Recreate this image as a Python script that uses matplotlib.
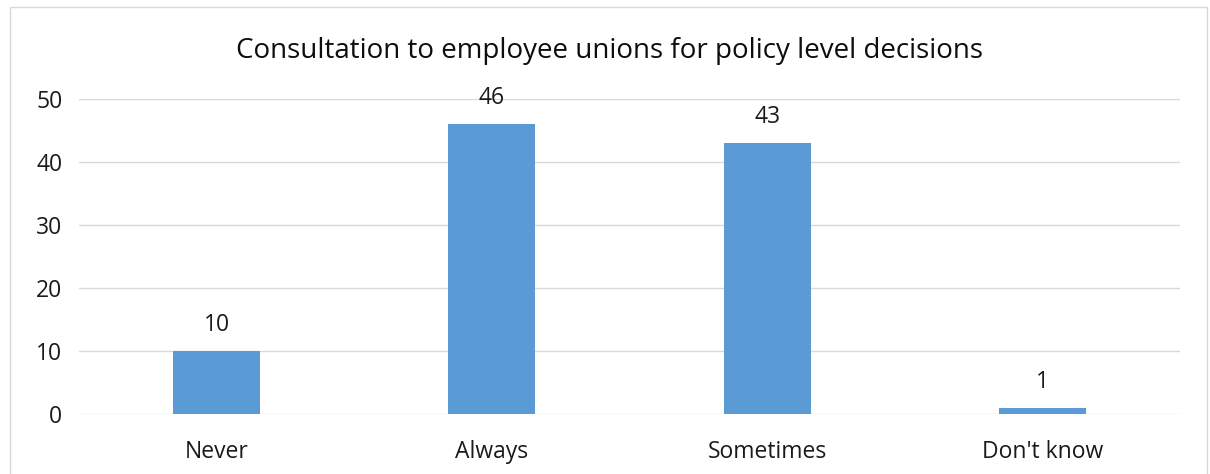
import matplotlib
matplotlib.use("Agg")
import matplotlib.pyplot as plt
from matplotlib.patches import Rectangle

categories = ["Never", "Always", "Sometimes", "Don't know"]
values = [10, 46, 43, 1]
yticks = [0, 10, 20, 30, 40, 50]
title = "Consultation to employee unions for policy level decisions"

plt.rcParams['font.family'] = ['Open Sans', 'DejaVu Sans']

fig = plt.figure(figsize=(12.1, 4.74), dpi=100)
fig.patches.append(Rectangle((10/1210, -0.1), (1207-10)/1210, 1.1 - 7/474,
                             transform=fig.transFigure, fill=False,
                             edgecolor='#D9D9D9', linewidth=1.0))
ax = fig.add_axes([79/1210, 60/474, 1101/1210, 315/474])

x = list(range(len(categories)))
bars = ax.bar(x, values, width=0.316, color='#5B9BD5', zorder=3)
for xi, v in zip(x, values):
    ax.text(xi, v + 2.2, str(v), ha='center', va='bottom', fontsize=16.5, color='#1a1a1a')

ax.set_xlim(-0.5, len(categories) - 0.5)
ax.set_ylim(0, 50)
ax.set_yticks(yticks)
ax.set_yticklabels([str(t) for t in yticks])
ax.set_xticks(x)
ax.set_xticklabels(categories)
ax.tick_params(axis='both', length=0, labelsize=16.5, colors='#1a1a1a')
ax.tick_params(axis='x', pad=19)
ax.tick_params(axis='y', pad=12)
ax.grid(axis='y', color='#D9D9D9', linewidth=1.0, zorder=0)
for s in ax.spines.values():
    s.set_visible(False)
ax.set_title(title, fontsize=20, color='#0d0d0d', pad=29.5, x=0.482)

fig.savefig("out.png", dpi=100)
